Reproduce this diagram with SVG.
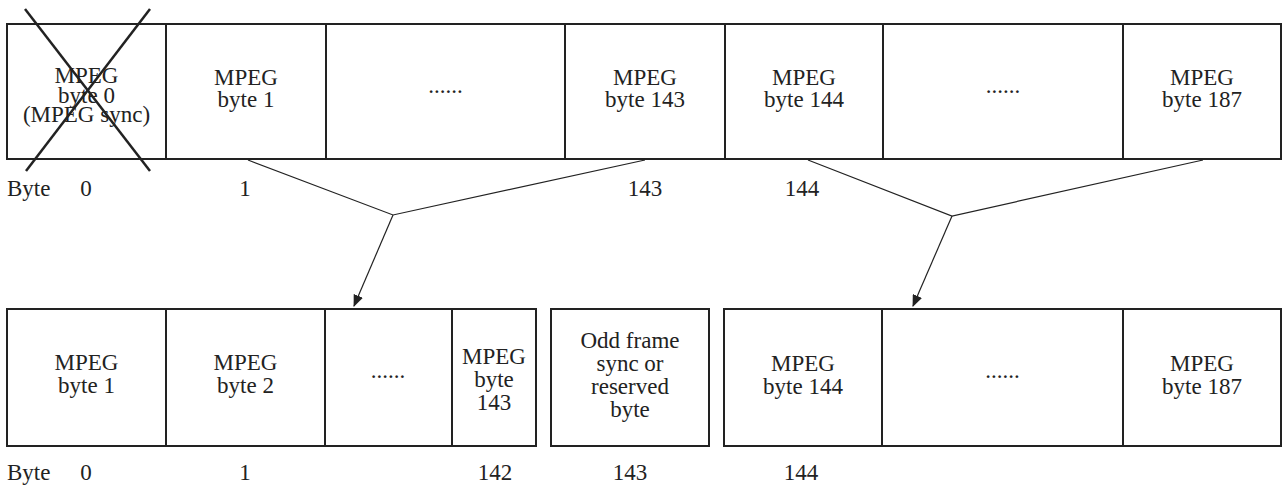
<svg xmlns="http://www.w3.org/2000/svg" width="1283" height="487" viewBox="0 0 1283 487">
<style>
.b{fill:#fff;stroke:#222;stroke-width:2}
.t{font-family:"Liberation Serif","Times New Roman",serif;font-size:23px;fill:#222;text-anchor:middle}
.l{font-family:"Liberation Serif","Times New Roman",serif;font-size:23px;fill:#222}
.c{fill:none;stroke:#222;stroke-width:1.2}
.x{stroke:#222;stroke-width:2.5}
</style>
<defs>
<marker id="ah" markerWidth="12" markerHeight="10" refX="11" refY="5" orient="auto" markerUnits="userSpaceOnUse">
<path d="M0,0 L12,5 L0,10 Z" fill="#222"/>
</marker>
</defs>
<g id="top-row">
<g id="t0"><rect class="b" x="7" y="24" width="159" height="135"/>
<text class="t" x="86.5" y="83">MPEG</text><text class="t" x="86.5" y="102.5">byte 0</text><text class="t" x="86.5" y="122">(MPEG sync)</text>
<line class="x" x1="25" y1="9" x2="150" y2="171"/><line class="x" x1="150" y1="9" x2="26" y2="171"/></g>
<g id="t1"><rect class="b" x="166" y="24" width="160" height="135"/><text class="t" x="246" y="85">MPEG</text><text class="t" x="246" y="107">byte 1</text></g>
<g id="t2"><rect class="b" x="326" y="24" width="239" height="135"/><text class="t" x="445.5" y="93">......</text></g>
<g id="t143"><rect class="b" x="565" y="24" width="160" height="135"/><text class="t" x="645" y="85">MPEG</text><text class="t" x="645" y="107">byte 143</text></g>
<g id="t144"><rect class="b" x="725" y="24" width="158" height="135"/><text class="t" x="804" y="85">MPEG</text><text class="t" x="804" y="107">byte 144</text></g>
<g id="t3"><rect class="b" x="883" y="24" width="240" height="135"/><text class="t" x="1003" y="93">......</text></g>
<g id="t187"><rect class="b" x="1123" y="24" width="158" height="135"/><text class="t" x="1202" y="85">MPEG</text><text class="t" x="1202" y="107">byte 187</text></g>
</g>
<g id="top-labels">
<text class="l" x="7" y="196">Byte</text>
<text class="t" x="86" y="196">0</text>
<text class="t" x="245" y="196">1</text>
<text class="t" x="645" y="196">143</text>
<text class="t" x="802" y="196">144</text>
</g>
<g id="bottom-row">
<g id="b1"><rect class="b" x="7" y="309" width="159" height="137"/><text class="t" x="86.5" y="370">MPEG</text><text class="t" x="86.5" y="393">byte 1</text></g>
<g id="b2"><rect class="b" x="166" y="309" width="159" height="137"/><text class="t" x="245.5" y="370">MPEG</text><text class="t" x="245.5" y="393">byte 2</text></g>
<g id="b3"><rect class="b" x="325" y="309" width="127" height="137"/><text class="t" x="388" y="378">......</text></g>
<g id="b143"><rect class="b" x="452" y="309" width="84" height="137"/><text class="t" x="494" y="364">MPEG</text><text class="t" x="494" y="387">byte</text><text class="t" x="494" y="410">143</text></g>
<g id="odd"><rect class="b" x="551" y="309" width="158" height="137"/><text class="t" x="630" y="348">Odd frame</text><text class="t" x="630" y="371">sync or</text><text class="t" x="630" y="394">reserved</text><text class="t" x="630" y="417">byte</text></g>
<g id="b144"><rect class="b" x="724" y="309" width="158" height="137"/><text class="t" x="803" y="371">MPEG</text><text class="t" x="803" y="394">byte 144</text></g>
<g id="b4"><rect class="b" x="882" y="309" width="241" height="137"/><text class="t" x="1002.5" y="378">......</text></g>
<g id="b187"><rect class="b" x="1123" y="309" width="158" height="137"/><text class="t" x="1202" y="371">MPEG</text><text class="t" x="1202" y="394">byte 187</text></g>
</g>
<g id="bottom-labels">
<text class="l" x="7" y="480">Byte</text>
<text class="t" x="86" y="480">0</text>
<text class="t" x="245" y="480">1</text>
<text class="t" x="495" y="480">142</text>
<text class="t" x="630" y="480">143</text>
<text class="t" x="801" y="480">144</text>
</g>
<g id="connectors">
<polyline class="c" points="248,160 393,215 645,160"/>
<line class="c" x1="393" y1="215" x2="354" y2="306" marker-end="url(#ah)"/>
<polyline class="c" points="808,160 952,216 1203,160"/>
<line class="c" x1="952" y1="216" x2="913" y2="306" marker-end="url(#ah)"/>
</g>
</svg>
